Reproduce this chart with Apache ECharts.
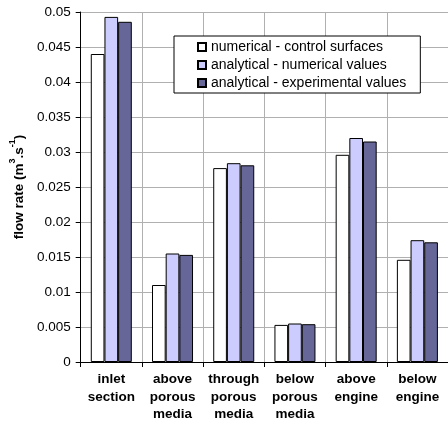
<!DOCTYPE html>
<html>
<head>
<meta charset="utf-8">
<script src="https://cdn.jsdelivr.net/npm/echarts@6/dist/echarts.min.js"></script>
<style>
  html, body { margin: 0; padding: 0; background: #fff; }
  #chart { width: 448px; height: 425px; }
</style>
</head>
<body>
<div id="chart"></div>
<script>
const categories = ['inlet\nsection', 'above\nporous\nmedia', 'through\nporous\nmedia', 'below\nporous\nmedia', 'above\nengine', 'below\nengine'];
const seriesNames = ['numerical - control surfaces', 'analytical - numerical values', 'analytical - experimental values'];
const numericalControl = [0.0440, 0.0110, 0.0277, 0.0053, 0.0296, 0.0146];
const analyticalNumerical = [0.0493, 0.0155, 0.0284, 0.0055, 0.0320, 0.0174];
const analyticalExperimental = [0.0486, 0.0153, 0.0281, 0.0054, 0.0315, 0.0171];
const yTicks = { min: 0, max: 0.05, interval: 0.005 };

const FONT = '"Liberation Sans", Arial, sans-serif';
const FS = 13.5;
const colors = ['#FFFFFF', '#CCCCFF', '#666699'];
const data = [numericalControl, analyticalNumerical, analyticalExperimental];

const chart = echarts.init(document.getElementById('chart'), null, { renderer: 'canvas' });
chart.setOption({
  animation: false,
  backgroundColor: '#fff',
  textStyle: { fontFamily: FONT },
  grid: { left: 77, top: 12, right: -4, bottom: 63, containLabel: false },
  legend: {
    orient: 'vertical',
    left: 174, top: 36,
    padding: [3, 14, 2, 23],
    itemWidth: 8, itemHeight: 8, itemGap: 2,
    backgroundColor: '#fff',
    borderColor: '#000', borderWidth: 1,
    icon: 'rect',
    textStyle: { fontFamily: FONT, fontSize: 14, color: '#000', lineHeight: 16 },
    data: seriesNames
  },
  xAxis: {
    type: 'category',
    data: categories,
    axisLine: { lineStyle: { color: '#000', width: 1 } },
    axisTick: { show: true, length: 5, lineStyle: { color: '#000' } },
    splitLine: { show: true, lineStyle: { color: '#b0b0b0', width: 1 } },
    axisLabel: { fontFamily: FONT, fontSize: FS, fontWeight: 'bold', color: '#000', lineHeight: 17.5, margin: 9, interval: 0 }
  },
  yAxis: {
    type: 'value',
    min: yTicks.min, max: yTicks.max, interval: yTicks.interval,
    name: '{b|flow rate (m}{sup|3}{b|.s}{sup|-1}{b|)}',
    nameLocation: 'middle',
    nameRotate: 90,
    nameGap: 42,
    nameTextStyle: {
      rich: {
        b: { fontFamily: FONT, fontSize: FS, fontWeight: 'bold', color: '#000', lineHeight: 18, verticalAlign: 'bottom' },
        sup: { fontFamily: FONT, fontSize: 9, fontWeight: 'bold', color: '#000', lineHeight: 18, verticalAlign: 'top' }
      }
    },
    axisLine: { show: true, lineStyle: { color: '#000', width: 1 } },
    axisTick: { show: true, inside: false, length: 5, lineStyle: { color: '#000' } },
    splitLine: { show: true, lineStyle: { color: '#b0b0b0', width: 1 } },
    axisLabel: {
      fontFamily: FONT, fontSize: FS, color: '#000', margin: 10,
      formatter: v => String(+v.toFixed(3))
    }
  },
  series: seriesNames.map((name, i) => ({
    name,
    type: 'bar',
    data: data[i],
    barGap: '0%',
    barCategoryGap: '33%',
    itemStyle: { color: colors[i], borderColor: '#000', borderWidth: 1 }
  }))
});
</script>
</body>
</html>
